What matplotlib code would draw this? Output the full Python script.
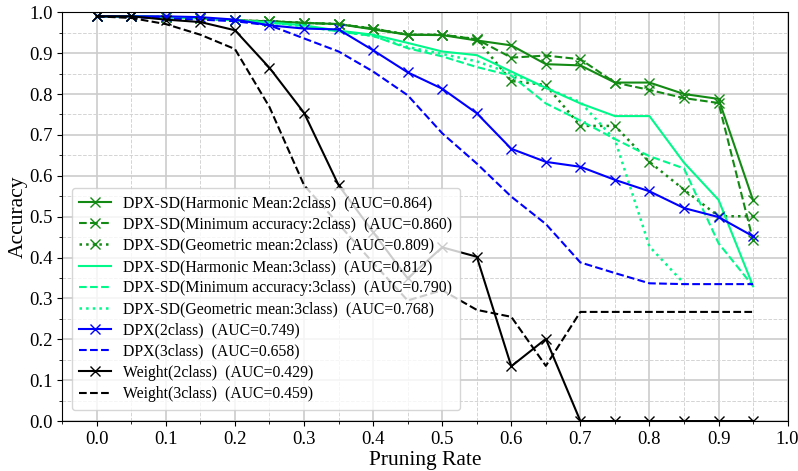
import numpy as np
import matplotlib
matplotlib.use("Agg")
import matplotlib.pyplot as plt
from matplotlib.ticker import MultipleLocator

plt.rcParams['font.family'] = ['Liberation Serif', 'DejaVu Serif']

rates = np.round(np.arange(0, 1.0, 0.05), 2)

hm_2 = [0.990, 0.990, 0.988, 0.985, 0.980, 0.978, 0.974, 0.971, 0.958, 0.945,
        0.944, 0.931, 0.919, 0.873, 0.870, 0.828, 0.828, 0.800, 0.788, 0.540]
min_2 = [0.990, 0.990, 0.988, 0.985, 0.980, 0.978, 0.974, 0.971, 0.960, 0.945,
         0.945, 0.934, 0.889, 0.894, 0.885, 0.828, 0.810, 0.790, 0.778, 0.442]
geo_2 = [0.990, 0.990, 0.988, 0.985, 0.980, 0.978, 0.974, 0.971, 0.960, 0.945,
         0.945, 0.934, 0.832, 0.822, 0.722, 0.722, 0.634, 0.566, 0.501, 0.501]
hm_3 = [0.990, 0.990, 0.988, 0.985, 0.980, 0.975, 0.968, 0.955, 0.945, 0.925,
        0.904, 0.895, 0.855, 0.815, 0.777, 0.746, 0.746, 0.632, 0.541, 0.330]
min_3 = [0.990, 0.990, 0.988, 0.985, 0.980, 0.975, 0.966, 0.953, 0.942, 0.912,
         0.892, 0.866, 0.845, 0.777, 0.735, 0.690, 0.648, 0.618, 0.435, 0.330]
geo_3 = [0.990, 0.990, 0.988, 0.985, 0.980, 0.975, 0.966, 0.953, 0.942, 0.915,
         0.898, 0.880, 0.850, 0.815, 0.780, 0.688, 0.427, 0.337, np.nan, np.nan]
dpx_2 = [0.990, 0.990, 0.990, 0.988, 0.982, 0.968, 0.960, 0.958, 0.907, 0.853,
         0.813, 0.753, 0.666, 0.634, 0.622, 0.590, 0.562, 0.521, 0.499, 0.452]
dpx_3 = [0.990, 0.988, 0.985, 0.982, 0.978, 0.968, 0.936, 0.904, 0.855, 0.797,
         0.704, 0.630, 0.549, 0.482, 0.388, 0.362, 0.337, 0.335, 0.335, 0.335]
wt_2 = [0.990, 0.990, 0.982, 0.976, 0.956, 0.864, 0.754, 0.577, 0.462, 0.349,
        0.425, 0.402, 0.134, 0.201, 0.0, 0.0, 0.0, 0.0, 0.0, 0.0]
wt_3 = [0.990, 0.986, 0.971, 0.945, 0.910, 0.768, 0.577, 0.482, 0.387, 0.295,
        0.320, 0.272, 0.255, 0.135, 0.267, 0.267, 0.267, 0.267, 0.267, 0.267]

labels = [
    "DPX-SD(Harmonic Mean:2class)  (AUC=0.864)",
    "DPX-SD(Minimum accuracy:2class)  (AUC=0.860)",
    "DPX-SD(Geometric mean:2class)  (AUC=0.809)",
    "DPX-SD(Harmonic Mean:3class)  (AUC=0.812)",
    "DPX-SD(Minimum accuracy:3class)  (AUC=0.790)",
    "DPX-SD(Geometric mean:3class)  (AUC=0.768)",
    "DPX(2class)  (AUC=0.749)",
    "DPX(3class)  (AUC=0.658)",
    "Weight(2class)  (AUC=0.429)",
    "Weight(3class)  (AUC=0.459)",
]

dark = "#138a13"
light = "#00f98a"

fig, ax = plt.subplots(figsize=(7.98, 4.71), dpi=100)
fig.subplots_adjust(left=0.078, right=0.987, top=0.974, bottom=0.106)

ax.plot(rates, hm_2, color=dark, ls='-', marker='x', ms=7, lw=1.5, label=labels[0])
ax.plot(rates, min_2, color=dark, ls='--', marker='x', ms=7, lw=1.5, label=labels[1])
ax.plot(rates, geo_2, color=dark, ls=':', marker='x', ms=7, lw=1.8, label=labels[2])
ax.plot(rates, hm_3, color=light, ls='-', lw=1.5, label=labels[3])
ax.plot(rates, min_3, color=light, ls='--', lw=1.5, label=labels[4])
ax.plot(rates, geo_3, color=light, ls=':', lw=1.8, label=labels[5])
ax.plot(rates, dpx_2, color='blue', ls='-', marker='x', ms=7, lw=1.5, label=labels[6])
ax.plot(rates, dpx_3, color='blue', ls='--', lw=1.5, label=labels[7])
ax.plot(rates, wt_2, color='black', ls='-', marker='x', ms=7, lw=1.5, label=labels[8])
ax.plot(rates, wt_3, color='black', ls='--', lw=1.5, label=labels[9])

ax.set_xlim(-0.05, 1.0)
ax.set_ylim(0.0, 1.0)
ax.xaxis.set_major_locator(MultipleLocator(0.1))
ax.xaxis.set_minor_locator(MultipleLocator(0.05))
ax.yaxis.set_major_locator(MultipleLocator(0.1))
ax.yaxis.set_minor_locator(MultipleLocator(0.05))
ax.grid(which='major', color='#cccccc', lw=1.2, ls='-')
ax.grid(which='minor', color='#d4d4d4', lw=0.7, ls='--')
ax.set_axisbelow(True)
ax.tick_params(labelsize=13.5)
ax.set_xlabel("Pruning Rate", fontsize=15.5, labelpad=2)
ax.set_ylabel("Accuracy", fontsize=15.5, labelpad=1)

ax.legend(loc='lower left', fontsize=11.3, framealpha=0.8, handlelength=2.0,
          handletextpad=0.8, borderpad=0.5, labelspacing=0.33,
          bbox_to_anchor=(0.002, 0.008))

fig.savefig("out.png", dpi=100)
